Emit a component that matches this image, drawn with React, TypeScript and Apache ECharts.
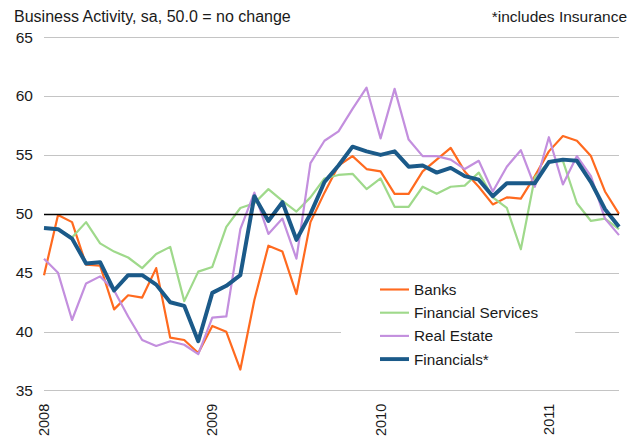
import React, { useEffect, useRef } from "react";
import * as echarts from "echarts";

const years = ["2008", "2009", "2010", "2011"];
const months: string[] = [];
for (const y of years) {
  for (let m = 1; m <= 12; m++) {
    if (y === "2011" && m > 6) break;
    months.push(`${y}-${String(m).padStart(2, "0")}`);
  }
}

const banks = [
  44.8, 49.9, 49.3, 45.7, 45.6, 41.9, 43.1, 42.9, 45.4, 39.5, 39.3, 38.2,
  40.5, 40.0, 36.8, 42.7, 47.3, 46.8, 43.2, 49.3, 51.8, 54.1, 54.9, 53.8,
  53.6, 51.7, 51.7, 53.6, 54.6, 55.6, 53.6, 52.3, 50.8, 51.4, 51.3, 53.2,
  55.3, 56.6, 56.2, 54.9, 51.9, 50.0,
];
const financialServices = [
  48.8, 48.7, 48.0, 49.3, 47.5, 46.8, 46.3, 45.4, 46.6, 47.2, 42.6, 45.1,
  45.5, 48.9, 50.5, 50.9, 52.1, 51.1, 50.2, 51.4, 53.0, 53.3, 53.4, 52.1,
  53.0, 50.6, 50.6, 52.3, 51.7, 52.3, 52.4, 53.5, 51.4, 50.5, 47.0, 53.1,
  54.4, 54.5, 50.9, 49.4, 49.6, 48.7,
];
const realEstate = [
  46.2, 45.0, 41.0, 44.1, 44.7, 43.5, 41.3, 39.3, 38.8, 39.2, 38.9, 38.1,
  41.2, 41.3, 48.7, 51.8, 48.3, 49.6, 46.2, 54.3, 56.2, 57.0, 58.9, 60.7,
  56.4, 60.6, 56.3, 54.9, 54.9, 54.6, 53.8, 54.5, 51.9, 54.0, 55.4, 52.3,
  56.5, 52.5, 54.9, 53.2, 49.6, 48.2,
];
const financials = [
  48.8, 48.7, 47.9, 45.8, 45.9, 43.5, 44.8, 44.8, 44.0, 42.5, 42.2, 39.2,
  43.3, 43.9, 44.8, 51.5, 49.4, 51.0, 47.8, 50.0, 52.7, 54.1, 55.7, 55.3,
  55.0, 55.3, 54.0, 54.1, 53.5, 53.9, 53.2, 52.9, 51.5, 52.6, 52.6, 52.6,
  54.4, 54.6, 54.5, 52.7, 50.4, 48.9,
];

const FONT = "'Liberation Sans', Arial, sans-serif";
const TEXT = "#1a1a1a";

export default function App() {
  const ref = useRef<HTMLDivElement>(null);
  useEffect(() => {
    if (!ref.current) return;
    const chart = echarts.init(ref.current, null, { renderer: "svg" });
    const mk = (name: string, data: number[], color: string, width: number, extra: any = {}) => ({
      name,
      type: "line",
      data,
      symbol: "none",
      showSymbol: false,
      lineStyle: { color, width, join: "round" },
      itemStyle: { color },
      ...extra,
    });
    const thin = "path://M0,0h30v2.2h-30z";
    const thick = "path://M0,0h30v4h-30z";
    chart.setOption({
      animation: false,
      backgroundColor: "#ffffff",
      textStyle: { fontFamily: FONT },
      title: [
        {
          text: "Business Activity, sa, 50.0 = no change",
          left: 9,
          top: 3,
          textStyle: { fontFamily: FONT, fontSize: 16, fontWeight: "normal", color: TEXT },
        },
        {
          text: "*includes Insurance",
          right: 11,
          top: 3,
          textStyle: { fontFamily: FONT, fontSize: 15.5, fontWeight: "normal", color: TEXT },
        },
      ],
      grid: { left: 44, right: 24, top: 37, bottom: 47, containLabel: false },
      legend: {
        orient: "vertical",
        left: 341,
        top: 276,
        data: [
          { name: "Banks", icon: thin },
          { name: "Financial Services", icon: thin },
          { name: "Real Estate", icon: thin },
          { name: "Financials*", icon: thick },
        ],
        itemWidth: 29,
        itemHeight: 14,
        itemGap: 8.2,
        backgroundColor: "#ffffff",
        padding: [6, 37, 6, 39],
        textStyle: { fontFamily: FONT, fontSize: 15.3, color: TEXT, lineHeight: 14 },
      },
      xAxis: {
        type: "category",
        data: months,
        boundaryGap: false,
        axisLine: { show: false },
        axisTick: { show: false },
        splitLine: { show: false },
        axisLabel: {
          interval: (i: number) => i % 12 === 0,
          formatter: (v: string) => v.slice(0, 4),
          rotate: 90,
          margin: 13,
          fontFamily: FONT,
          fontSize: 14.5,
          color: TEXT,
        },
      },
      yAxis: {
        type: "value",
        min: 35,
        max: 65,
        interval: 5,
        axisLine: { show: false },
        axisTick: { show: false },
        splitLine: { show: true, lineStyle: { color: "#c4c4c4", width: 1 } },
        axisLabel: { margin: 11, fontFamily: FONT, fontSize: 15.5, color: TEXT },
      },
      series: [
        mk("Banks", banks, "#ff6a1f", 2.2, {
          markLine: {
            silent: true,
            symbol: "none",
            label: { show: false },
            lineStyle: { color: "#000000", width: 1.3, type: "solid" },
            data: [{ yAxis: 50 }],
          },
        }),
        mk("Financial Services", financialServices, "#9fd98b", 2.2),
        mk("Real Estate", realEstate, "#c38fde", 2.2),
        mk("Financials*", financials, "#1b5a89", 4),
      ],
    });
    return () => chart.dispose();
  }, []);
  return (
    <div
      ref={ref}
      style={{ position: "fixed", left: 0, top: 0, width: 643, height: 439 }}
    />
  );
}
